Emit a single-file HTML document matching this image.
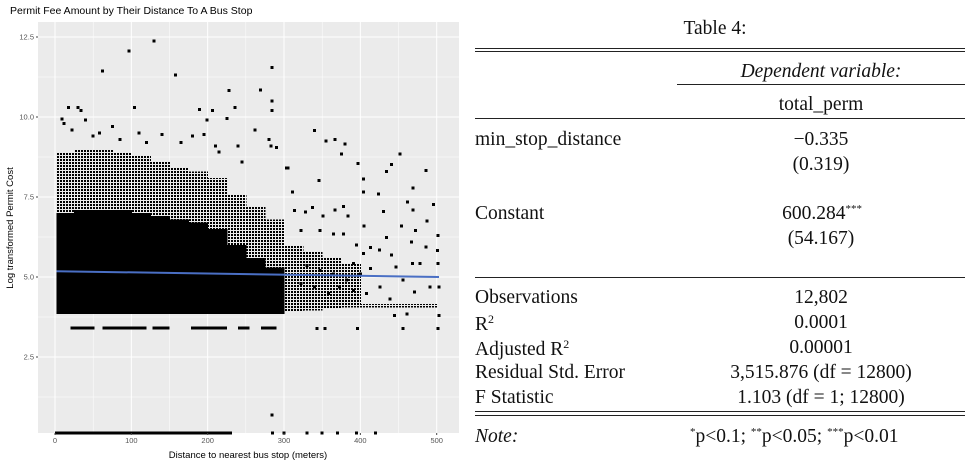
<!DOCTYPE html>
<html><head><meta charset="utf-8">
<style>
body{margin:0;background:#fff;width:975px;height:465px;overflow:hidden;position:relative;font-family:"Liberation Serif",serif}
.t{position:absolute;font-size:19.5px;color:#111;white-space:nowrap;line-height:1}
.c{transform:translateX(-50%)}
.hr{position:absolute;left:475px;width:490px;height:1px;background:#222}
</style></head><body>
<svg width="460" height="465" style="position:absolute;left:0;top:0" font-family="Liberation Sans, sans-serif">
<defs><pattern id="stip" width="3" height="3" patternUnits="userSpaceOnUse"><rect width="2" height="2" fill="#000"/></pattern></defs>
<text x="10" y="14" font-size="10.5" fill="#000">Permit Fee Amount by Their Distance To A Bus Stop</text>
<rect x="38" y="22" width="421" height="411" fill="#ebebeb"/>
<g id="grid"></g><g id="marks" shape-rendering="crispEdges"></g><g id="axes"></g>
<text x="248" y="458" font-size="9.5" text-anchor="middle" fill="#000">Distance to nearest bus stop (meters)</text>
<text transform="translate(13,228) rotate(-90)" font-size="9.5" text-anchor="middle" fill="#000">Log transformed Permit Cost</text>
</svg>

<div class="t c" style="left:715px;top:19px">Table 4:</div>
<div class="hr" style="top:48px"></div>
<div class="hr" style="top:51px"></div>
<div class="t c" style="left:821px;top:62px;font-style:italic">Dependent variable:</div>
<div class="hr" style="top:84px;left:677px;width:288px"></div>
<div class="t c" style="left:821px;top:95px">total_perm</div>
<div class="hr" style="top:118px"></div>
<div class="t" style="left:475px;top:130px">min_stop_distance</div>
<div class="t c" style="left:821px;top:130px">−0.335</div>
<div class="t c" style="left:821px;top:155px">(0.319)</div>
<div class="t" style="left:475px;top:204px">Constant</div>
<div class="t c" style="left:822px;top:204px">600.284<sup style="font-size:11px;vertical-align:7px">***</sup></div>
<div class="t c" style="left:821px;top:229px">(54.167)</div>
<div class="hr" style="top:277px"></div>
<div class="t" style="left:475px;top:288px">Observations</div>
<div class="t c" style="left:821px;top:288px">12,802</div>
<div class="t" style="left:475px;top:313px">R<sup style="font-size:12px;vertical-align:7px">2</sup></div>
<div class="t c" style="left:821px;top:313px">0.0001</div>
<div class="t" style="left:475px;top:338px">Adjusted R<sup style="font-size:12px;vertical-align:7px">2</sup></div>
<div class="t c" style="left:821px;top:338px">0.00001</div>
<div class="t" style="left:475px;top:363px">Residual Std. Error</div>
<div class="t c" style="left:821px;top:363px">3,515.876 (df = 12800)</div>
<div class="t" style="left:475px;top:388px">F Statistic</div>
<div class="t c" style="left:821px;top:388px">1.103 (df = 1; 12800)</div>
<div class="hr" style="top:411px"></div>
<div class="hr" style="top:415px"></div>
<div class="t" style="left:475px;top:427px;font-style:italic">Note:</div>
<div class="t" style="left:690px;top:427px"><sup style="font-size:11px;vertical-align:7px">*</sup>p&lt;0.1; <sup style="font-size:11px;vertical-align:7px">**</sup>p&lt;0.05; <sup style="font-size:11px;vertical-align:7px">***</sup>p&lt;0.01</div>

<script>
const xTicks=[0,100,200,300,400,500];
const yTicks=[2.5,5.0,7.5,10.0,12.5];
const binStart=[0,25,50,75,100,125,150,175,200,225,250,275,300,325,350,375,400,425,450,475];
const solidLo=[3.85,3.85,3.85,3.85,3.85,3.85,3.85,3.85,3.85,3.85,3.85,3.85,3.9,3.95,4.0,4.05,4.05,4.05,4.05,4.05];
const solidHi=[7.0,7.1,7.1,7.1,7.0,6.9,6.8,6.7,6.5,6.0,5.6,5.3,4.6,4.4,4.3,4.2,4.15,4.15,4.15,4.15];
const stippleHi=[8.9,9.0,9.0,8.9,8.8,8.6,8.4,8.3,8.1,7.6,7.2,6.8,6.0,5.8,5.6,5.4,4.15,4.15,4.15,4.15];
const streakStart=[20,62,128,178,240,270];
const streakEnd=[52,120,150,225,255,290];
const streakY=3.4;
const floorStart=[0];
const floorEnd=[232];
const floorY=0.12;
const ptX=[130,97,62,158,284,228,269,284,284,236,206,189,34,18,30,104,9,199,225,262,340,355,367,380,375,452,397,441,404,434,486,303,305,346,469,404,424,311,462,496,469,430,487,405,454,472,502,434,467,413,425,486,501,502,441,468,456,491,503,471,445,461,503,456,502,396,343,354,284,314,328,337,351,367,378,384,322,347,365,378,395,404,391,330,347,365,382,322,340,358,373,391,408,426,439,478,447,413,400,285,300,330,350,370,395,420,12,22,40,50,58,75,85,110,120,140,165,180,195,210,215,240,245,280,290,283];
const ptY=[12.37,12.06,11.44,11.31,11.54,10.83,10.85,10.5,10.2,10.3,10.2,10.23,10.2,10.3,10.3,10.3,9.93,9.9,9.95,9.6,9.58,9.25,9.3,9.15,8.85,8.85,8.54,8.52,8.07,8.3,8.33,8.4,8.4,8.02,7.78,7.66,7.6,7.66,7.34,7.27,7.1,7.05,6.75,6.6,6.6,6.46,6.3,6.23,6.1,5.92,5.85,5.94,5.83,5.42,5.68,5.42,4.9,4.69,4.69,4.53,3.8,3.85,3.8,3.39,3.39,3.39,3.39,3.39,0.68,7.08,7.03,7.17,6.9,7.1,7.2,6.9,6.46,6.46,6.35,6.35,6.0,5.73,5.42,5.36,5.2,5.1,4.9,4.8,4.69,4.48,4.69,4.58,4.48,4.69,4.32,5.42,5.31,5.26,5.1,0.12,0.12,0.12,0.12,0.12,0.12,0.12,9.8,9.6,9.9,9.4,9.5,9.7,9.3,9.5,9.2,9.45,9.2,9.4,9.45,9.1,8.9,9.1,8.6,9.3,9.05,9.1];
const fitX=[2,503];
const fitY=[5.18,5.0];

const NS='http://www.w3.org/2000/svg';
const sx=v=>55+v*0.7634;
const sy=v=>437-v*32;
function mk(parent,tag,attrs){const e=document.createElementNS(NS,tag);for(const k in attrs)e.setAttribute(k,attrs[k]);document.getElementById(parent).appendChild(e);return e;}
[50,150,250,350,450].forEach(v=>{const e=mk('grid','line',{x1:sx(v),x2:sx(v),y1:22,y2:433,stroke:'#fff','stroke-width':0.5});

});
[1.25,3.75,6.25,8.75,11.25].forEach(v=>{const e=mk('grid','line',{x1:38,x2:459,y1:sy(v),y2:sy(v),stroke:'#fff','stroke-width':0.5});

});
xTicks.forEach(v=>{const e=mk('grid','line',{x1:sx(v),x2:sx(v),y1:22,y2:433,stroke:'#fff','stroke-width':1});


const t=mk('axes','text',{x:sx(v),y:443,'font-size':7.5,'text-anchor':'middle',fill:'#555'});t.textContent=v;


const k=mk('axes','line',{x1:sx(v),x2:sx(v),y1:433,y2:435,stroke:'#444'});

});
yTicks.forEach(v=>{const e=mk('grid','line',{x1:38,x2:459,y1:sy(v),y2:sy(v),stroke:'#fff','stroke-width':1});


const t=mk('axes','text',{x:34,y:sy(v)+2.5,'font-size':7.5,'text-anchor':'end',fill:'#555'});t.textContent=v.toFixed(1);


const k=mk('axes','line',{x1:36,x2:38,y1:sy(v),y2:sy(v),stroke:'#444'});

});
binStart.forEach((b,i)=>{const x0=sx(Math.max(b,2)),x1=sx(Math.min(b+25,503));
const s=mk('marks','rect',{x:x0,width:x1-x0+0.5,y:sy(stippleHi[i]),height:sy(solidHi[i])-sy(stippleHi[i]),fill:'url(#stip)'});


const r=mk('marks','rect',{x:x0,width:x1-x0+0.5,y:sy(solidHi[i]),height:sy(solidLo[i])-sy(solidHi[i]),fill:i<12?'#000':'url(#stip)'});

});
streakStart.forEach((s,i)=>{const r=mk('marks','rect',{x:sx(s),width:sx(streakEnd[i])-sx(s),y:sy(streakY)-1.5,height:3,fill:'#000'});

});
floorStart.forEach((s,i)=>{const r=mk('marks','rect',{x:sx(s),width:sx(floorEnd[i])-sx(s),y:sy(floorY)-1.5,height:3,fill:'#000'});

});
ptX.forEach((x,i)=>{const c=mk('marks','rect',{x:sx(x)-1.5,y:sy(ptY[i])-1.5,width:3,height:3,fill:'#000'});

});
const l=mk('axes','line',{x1:sx(fitX[0]),y1:sy(fitY[0]),x2:sx(fitX[1]),y2:sy(fitY[1]),stroke:'#4a6fc4','stroke-width':2});


</script>
</body></html>
